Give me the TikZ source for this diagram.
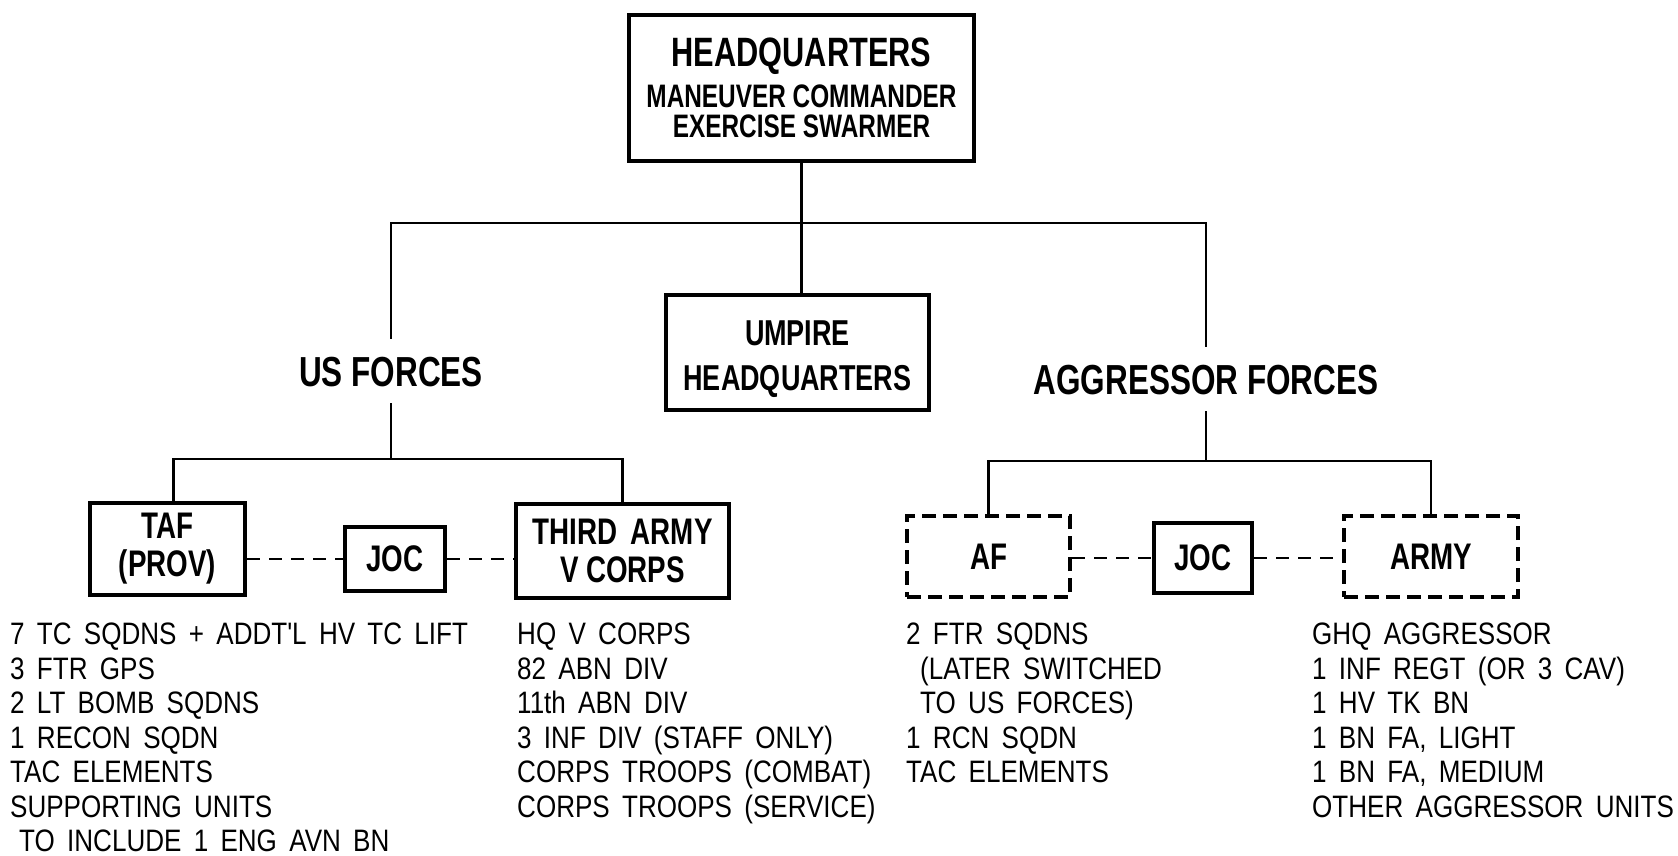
\documentclass[tikz,border=0pt]{standalone}
\usepackage{fontspec}
\setmainfont{Liberation Sans}
\newfontfamily\headfont{Liberation Sans}[FakeStretch=0.75]
\newfontfamily\listfont{Liberation Sans}[FakeStretch=0.84,WordSpace=1.7]

\begin{document}
\begin{tikzpicture}[x=1pt,y=-1pt,
  link/.style={line width=2.6pt},
  dashlink/.style={line width=2.6pt,dash pattern=on 13pt off 9pt},
  unit/.style={draw,line width=4pt,inner sep=0pt,align=center,
    font=\headfont\bfseries\fontsize{37}{38}\selectfont},
  unitdash/.style={unit,dash pattern=on 14pt off 7pt},
  force/.style={inner xsep=0pt,inner ysep=17pt,text height=30pt,text depth=0pt,
    font=\headfont\bfseries\fontsize{42}{42}\selectfont},
  roster/.style={anchor=north west,inner sep=0pt,align=left,
    font=\listfont\fontsize{31}{34.5}\selectfont}]
  \useasboundingbox[fill=white] (0,0) rectangle (1678,856);
  % top of the tree
  \node[unit,minimum width=345pt,minimum height=146pt,font=\headfont\bfseries\fontsize{32.5}{30}\selectfont]
    (hq) at (801.5,88) {{\fontsize{41}{41}\selectfont HEADQUARTERS}\\[9pt]MANEUVER COMMANDER\\EXERCISE SWARMER};
  \node[unit,minimum width=263pt,minimum height=115pt,font=\headfont\bfseries\fontsize{36}{45}\selectfont]
    (umpire) at (797.5,352.5) {\rule{0pt}{38pt}UMPIRE\\HEADQUARTERS};
  \node[force] (us) at (391,371) {US FORCES};
  \node[force] (agg) at (1206,379) {AGGRESSOR FORCES};
  \coordinate (split) at (802,223);
  \draw[link] (hq.south) -- (hq.south |- umpire.north);
  \draw[link] (us.north) |- (split) -| (agg.north);
  % US side
  \node[unit,minimum width=155pt,minimum height=92pt] (taf) at (167.5,549) {TAF\\(PROV)};
  \node[unit,minimum width=100pt,minimum height=64pt] (joc1) at (395,559) {JOC};
  \node[unit,minimum width=213pt,minimum height=94pt] (third) at (622.5,551) {THIRD\hspace{6pt} ARMY\\V CORPS};
  \coordinate (usfork) at (391,459);
  \draw[link] (us.south) -- (usfork);
  \draw[link] ([xshift=6pt]taf.north) |- (usfork) -| (third.north);
  \draw[dashlink] (taf.east |- joc1.west) -- (joc1.west);
  \draw[dashlink] (joc1.east) -- (joc1.east -| third.west);
  % aggressor side
  \node[unitdash,minimum width=163pt,minimum height=81pt] (af) at (988.5,556.5) {AF};
  \node[unit,minimum width=98pt,minimum height=70pt] (joc2) at (1203,558) {JOC};
  \node[unitdash,minimum width=174pt,minimum height=81pt] (army) at (1431,556.5) {ARMY};
  \coordinate (aggfork) at (1206,461);
  \draw[link] (agg.south) -- (aggfork);
  \draw[link] (af.north) |- (aggfork) -| (army.north);
  \draw[dashlink] (af.east |- joc2.west) -- (joc2.west);
  \draw[dashlink] (joc2.east) -- (joc2.east -| army.west);
  % units under each command
  \node[roster] (taflist) at (10,623) {7 TC SQDNS + ADDT'L HV TC LIFT\\3 FTR GPS\\2 LT BOMB SQDNS\\
    1 RECON SQDN\\TAC ELEMENTS\\SUPPORTING UNITS\\\hspace*{9pt}TO INCLUDE 1 ENG AVN BN};
  \node[roster] (thirdlist) at (517,623) {HQ V CORPS\\82 ABN DIV\\11th ABN DIV\\3 INF DIV (STAFF ONLY)\\
    CORPS TROOPS (COMBAT)\\CORPS TROOPS (SERVICE)};
  \node[roster] (aflist) at (906,623) {2 FTR SQDNS\\\hspace*{14pt}(LATER SWITCHED\\\hspace*{14pt}TO US FORCES)\\
    1 RCN SQDN\\TAC ELEMENTS};
  \node[roster] (armylist) at (1312,623) {GHQ AGGRESSOR\\1 INF REGT (OR 3 CAV)\\1 HV TK BN\\1 BN FA, LIGHT\\
    1 BN FA, MEDIUM\\OTHER AGGRESSOR UNITS};
\end{tikzpicture}
\end{document}
